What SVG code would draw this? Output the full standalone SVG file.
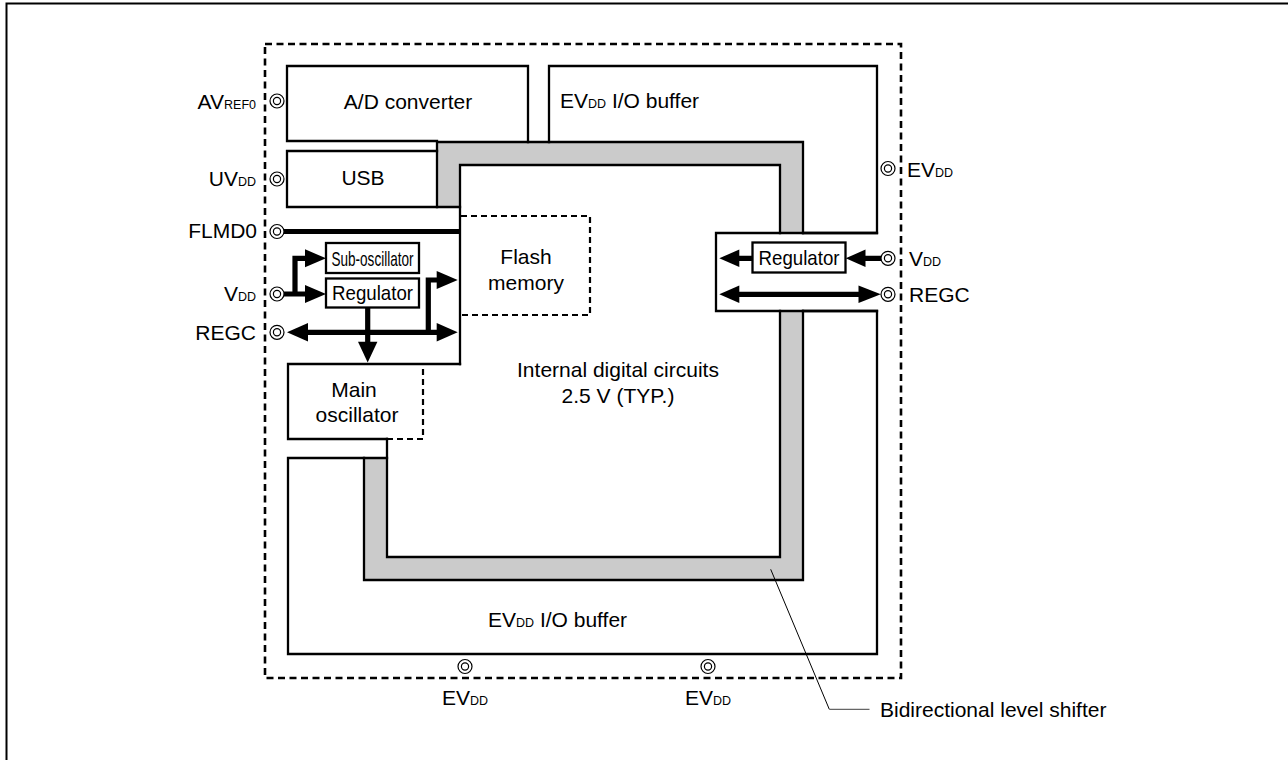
<svg xmlns="http://www.w3.org/2000/svg" width="1288" height="760" viewBox="0 0 1288 760">
<style>
text{font-family:"Liberation Sans",Arial,Helvetica,sans-serif;font-size:21px;fill:#000}
.sub{font-size:12.5px}
.ln{fill:none;stroke:#000;stroke-width:2.3;stroke-linejoin:miter;stroke-linecap:square}
.dash{fill:none;stroke:#000;stroke-width:2.2;stroke-dasharray:6 4}
.odash{fill:none;stroke:#000;stroke-width:2.6;stroke-dasharray:7 4.5}
.gray{fill:#cbcbcb;stroke:none}
.bus{fill:none;stroke:#000;stroke-width:5.2;stroke-linejoin:miter}
.head{fill:#000;stroke:none}
.box{fill:#fff;stroke:#000;stroke-width:2.3}
</style>
<defs>
<g id="pinsym"><circle r="7" fill="#fff" stroke="#000" stroke-width="1.2"/><circle r="3.6" fill="#fff" stroke="#000" stroke-width="1.2"/></g>
</defs>
<path d="M6.5,760 V3.5 H1288" fill="none" stroke="#000" stroke-width="2"/>
<rect id="chip" class="odash" x="265" y="44" width="636" height="634"/>

<g id="level-shifter">
<rect class="gray" x="437" y="142" width="366" height="23"/>
<rect class="gray" x="437" y="165" width="23" height="42"/>
<rect class="gray" x="780" y="165" width="23" height="68"/>
<rect class="gray" x="780" y="311" width="23" height="269"/>
<rect class="gray" x="364" y="557" width="439" height="23"/>
<rect class="gray" x="364" y="458" width="23" height="99"/>
<path class="ln" d="M437,207 V142 H803 V233 M803,311 V580 H364 V458"/>
</g>

<g id="ad-converter">
<path class="ln" d="M437,141 H287 V66 H528 V142"/>
<text x="408" y="109" text-anchor="middle">A/D converter</text>
</g>

<g id="usb">
<path class="ln" d="M437,151 H287 V207 H460"/>
<text x="363" y="185" text-anchor="middle">USB</text>
</g>

<g id="io-buffer-top">
<path class="ln" d="M549,142 V66 H877 V233 H803"/>
<text x="560" y="108">EV<tspan class="sub">DD</tspan> I/O buffer</text>
</g>

<g id="regulator-region-right">
<path class="ln" d="M877,233 H716 V311 H877"/>
</g>

<g id="io-buffer-bottom">
<path class="ln" d="M803,311 H877 V654 H288 V458 H387"/>
<text x="488" y="627">EV<tspan class="sub">DD</tspan> I/O buffer</text>
</g>

<g id="internal-digital">
<path class="ln" d="M460,364 V165 H780 V233 M780,311 V557 H387 V439"/>
<text x="618" y="377" text-anchor="middle">Internal digital circuits</text>
<text x="618" y="403" text-anchor="middle">2.5 V (TYP.)</text>
</g>

<g id="main-oscillator">
<path class="ln" d="M387,439 H288 V364 H460"/>
<path class="dash" d="M387,439 H423 V364"/>
<text x="354" y="397" text-anchor="middle">Main</text>
<text x="357" y="422" text-anchor="middle">oscillator</text>
</g>

<g id="flash-memory">
<path class="dash" d="M461,216 H590 V315 H461"/>
<text x="526" y="264" text-anchor="middle">Flash</text>
<text x="526" y="290" text-anchor="middle">memory</text>
</g>

<g id="sub-oscillator">
<rect class="box" x="326" y="243" width="93" height="30"/>
<text x="372.5" y="266" text-anchor="middle" font-size="17.5" textLength="82" lengthAdjust="spacingAndGlyphs">Sub-oscillator</text>
</g>

<g id="regulator-left">
<rect class="box" x="326" y="278.5" width="93" height="29"/>
<text x="372.5" y="300" text-anchor="middle" font-size="19" textLength="81" lengthAdjust="spacingAndGlyphs">Regulator</text>
</g>

<g id="regulator-right">
<rect class="box" x="752.5" y="242.5" width="93" height="30"/>
<text x="799" y="265" text-anchor="middle" font-size="19" textLength="81" lengthAdjust="spacingAndGlyphs">Regulator</text>
</g>

<g id="pins">
<use href="#pinsym" x="277" y="101"/>
<use href="#pinsym" x="277" y="179"/>
<use href="#pinsym" x="277" y="231.5"/>
<use href="#pinsym" x="277" y="294"/>
<use href="#pinsym" x="277" y="332.3"/>
<use href="#pinsym" x="888" y="168.5"/>
<use href="#pinsym" x="888" y="258.3"/>
<use href="#pinsym" x="888" y="294.3"/>
<use href="#pinsym" x="465" y="666.5"/>
<use href="#pinsym" x="708" y="666.5"/>
</g>

<g id="pin-labels">
<text x="256" y="109" text-anchor="end">AV<tspan class="sub">REF0</tspan></text>
<text x="256" y="186" text-anchor="end">UV<tspan class="sub">DD</tspan></text>
<text x="257" y="238" text-anchor="end">FLMD0</text>
<text x="256" y="301" text-anchor="end">V<tspan class="sub">DD</tspan></text>
<text x="256" y="340" text-anchor="end">REGC</text>
<text x="907" y="177">EV<tspan class="sub">DD</tspan></text>
<text x="909" y="266">V<tspan class="sub">DD</tspan></text>
<text x="909" y="302">REGC</text>
<text x="465" y="705" text-anchor="middle">EV<tspan class="sub">DD</tspan></text>
<text x="708" y="705" text-anchor="middle">EV<tspan class="sub">DD</tspan></text>
<text x="880" y="717">Bidirectional level shifter</text>
</g>

<g id="connectors">
<line class="bus" x1="284" y1="231.5" x2="460" y2="231.5"/>
<path class="bus" d="M284,294 H307 M295,294 V258.3 H307"/>
<polygon class="head" points="305,249.3 326,258.3 305,267.3"/>
<polygon class="head" points="305,285 326,294 305,303"/>
<path class="bus" d="M367.7,308 V343"/>
<polygon class="head" points="358,341.7 377.4,341.7 367.7,362.5"/>
<path class="bus" d="M306,332.3 H439 M428.3,332.3 V280 H439"/>
<polygon class="head" points="287,332.3 308,323 308,341.6"/>
<polygon class="head" points="457.7,332.3 436.7,323 436.7,341.6"/>
<polygon class="head" points="457.7,280 436.7,271 436.7,289"/>
<path class="bus" d="M738,258.3 H753 M881,258.3 H864"/>
<polygon class="head" points="719.3,258.3 739.3,249.5 739.3,267.1"/>
<polygon class="head" points="845.7,258.3 865.5,249.5 865.5,267.1"/>
<path class="bus" d="M737,294.3 H860"/>
<polygon class="head" points="719.3,294.3 739.3,285.5 739.3,303.1"/>
<polygon class="head" points="880.8,294.3 858.5,285.5 858.5,303.1"/>
<path d="M770.7,569.3 L829.3,709.3" fill="none" stroke="#000" stroke-width="1"/>
<path d="M829.3,709.3 H869.5" fill="none" stroke="#666" stroke-width="1.2"/>
</g>
</svg>
